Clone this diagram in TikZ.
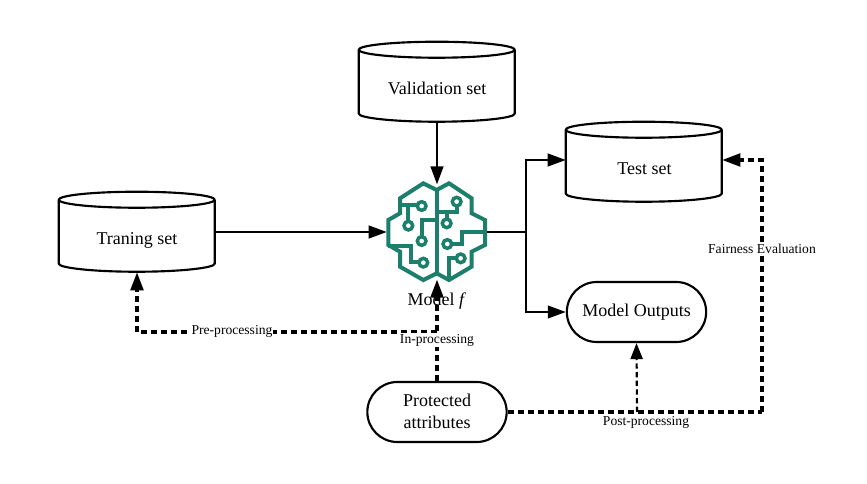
\documentclass[tikz,border=0pt]{standalone}
\usepackage{fontspec}
\setmainfont{Liberation Serif}
\usetikzlibrary{arrows.meta,calc}
\definecolor{brainteal}{HTML}{1B7F6B}
\tikzset{
  cyl/.style={minimum width=117pt,minimum height=60pt,inner sep=0pt,font=\fontsize{13.5}{16}\selectfont},
  cylline/.style={line width=1.6pt,fill=white,line join=round},
  pill/.style={draw,line width=1.6pt,rounded corners=22.5pt,minimum width=104.5pt,minimum height=45pt,inner sep=0pt,align=center,font=\fontsize{13.5}{16.5}\selectfont},
  conn/.style={line width=1.6pt,-{Triangle[length=13.5pt,width=9.5pt]}},
  plainconn/.style={line width=1.6pt},
  dashconn/.style={line width=2.3pt,dash pattern=on 4.5pt off 3pt},
  dasharrow/.style={dashconn,-{Triangle[length=13.5pt,width=9.5pt]}},
  thindash/.style={line width=1.6pt,dash pattern=on 4pt off 2.5pt,-{Triangle[length=12pt,width=9pt]}},
  edgelabel/.style={fill=white,inner sep=0.6pt,font=\fontsize{10.2}{11}\selectfont},
  brainline/.style={brainteal,line width=3pt,line join=miter},
  braindot/.style={brainteal,line width=2.6pt,fill=white},
  hub/.style={inner sep=0pt,minimum size=0pt}
}
\newcommand{\cylshape}[1]{%
  \draw[cylline] (#1.north west) ++(0,8) -- ++(0,64)
    .. controls +(0,4) and +(-45,0) .. ++(78,8)
    .. controls +(45,0) and +(0,4) .. ++(78,-8) -- ++(0,-64);
  \draw[cylline] (#1.north west) ++(78,8) ellipse [x radius=78,y radius=8];
}
\begin{document}
\begin{tikzpicture}[x=0.75pt,y=-0.75pt]
\useasboundingbox (0,0) rectangle (867,484);
\fill[white] (0,0) rectangle (867,484);
% stores
\node[cyl] (train) at (137,232) {};
\node[cyl] (valid) at (437,82) {};
\node[cyl] (testset) at (644,162) {};
\cylshape{train}\cylshape{valid}\cylshape{testset}
\node[cyl] at (137,240) {Traning set};
\node[cyl] at (437,88.5) {Validation set};
\node[cyl] at (644.5,169) {Test set};
\node[pill] (outputs) at (636.5,312) {\raisebox{-0.7pt}{Model Outputs}};
\node[pill] (protected) at (437,412) {\raisebox{1.2pt}{Protected}\\\raisebox{1.2pt}{attributes}};
% brain
\node[hub,minimum width=75pt,minimum height=71pt] (brain) at (437,232) {};
\node[hub] (fork) at (526,232) {};
\node[hub] (prejoin) at (437,332) {};
\node[hub] (postjoin) at (637,412) {};
\coordinate (evalcorner) at (762,412);
\coordinate (evaltop) at (762,160);
\begin{scope}[shift={(370,170)},x=0.25pt,y=-0.25pt]
 \draw[brainline] (200,60) -- (160,40) -- (90,85) -- (90,130) -- (55,150) -- (55,225) -- (90,245) -- (90,290) -- (160,330) -- (200,310) -- (237,330) -- (305,290) -- (305,245) -- (345,225) -- (345,150) -- (305,130) -- (305,85) -- (237,40) -- (200,60) -- cycle;
 \draw[brainline] (200,60) -- (200,310);
 \draw[brainline] (90,105) -- (155,105);
 \draw[brainline] (115,105) -- (115,165);
 \draw[brainline] (200,150) -- (155,150) -- (155,213);
 \draw[brainline] (55,228) -- (122,228) -- (122,275) -- (160,275);
 \draw[brainline] (200,125) -- (260,125) -- (260,95);
 \draw[brainline] (230,125) -- (230,160);
 \draw[brainline] (232,222) -- (275,222) -- (275,185) -- (345,185);
 \draw[brainline] (272,265) -- (237,265) -- (237,330);
 \foreach \p in {(155,108),(115,167),(155,213),(160,278),(260,95),(230,160),(232,222),(272,265)}
   \draw[braindot] \p circle (13);
\end{scope}
% connectors
\draw[conn] (train.east) -- (brain.west);
\draw[conn] (valid.south) -- (brain.north);
\draw[plainconn] (brain.east) -- (fork.center);
\draw[conn] (fork.center) |- ($(testset.west)+(0,-2)$);
\draw[conn] (fork.center) |- (outputs.west);
\draw[dasharrow] (protected.north) -- (brain.south);
\draw[dasharrow] (prejoin.center) -| (train.south);
\draw[dashconn] (protected.east) -- (postjoin.center) -- (evalcorner);
\draw[thindash] (postjoin.center) -- (outputs.south);
\draw[dasharrow] (evalcorner) -- (evaltop) -- ($(testset.east)+(0,-2)$);
% labels
\node[edgelabel] (lpre) at (232,331) {Pre-processing};
\node[edgelabel] (lin) at (437,340) {In-processing};
\node[edgelabel] (lpost) at (646,422) {Post-processing};
\node[edgelabel] (leval) at (762,249) {Fairness Evaluation};
\node[inner sep=0pt,font=\fontsize{13.5}{14}\selectfont] (mlabel) at (437,301.5) {Model \textit{f}};
\end{tikzpicture}
\end{document}
